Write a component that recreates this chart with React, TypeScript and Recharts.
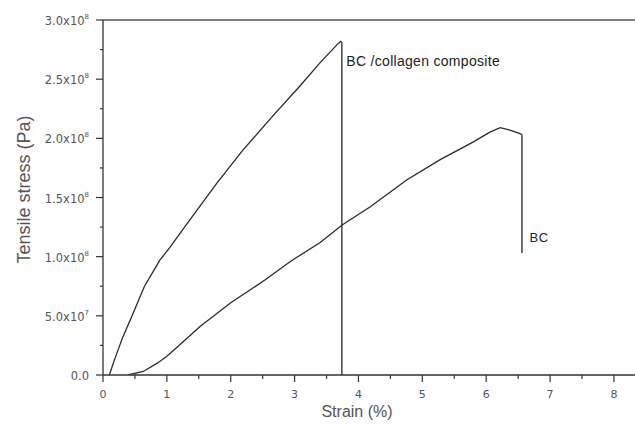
import React from "react";
import { Line, LineChart, ReferenceDot, ReferenceLine, XAxis, YAxis } from "recharts";

// strain (%) and tensile stress (Pa)
const compositeStrain = [0.1, 0.18, 0.31, 0.47, 0.65, 0.89, 1.05, 1.36, 1.78, 2.19, 2.66, 3.08, 3.4, 3.68, 3.72, 3.74, 3.74];
const compositeStress = [0, 0.13e8, 0.32e8, 0.52e8, 0.75e8, 0.97e8, 1.08e8, 1.31e8, 1.62e8, 1.9e8, 2.19e8, 2.44e8, 2.64e8, 2.8e8, 2.82e8, 2.81e8, 0];

const bcStrain = [0.39, 0.63, 0.85, 0.99, 1.15, 1.52, 2.0, 2.53, 2.95, 3.4, 3.75, 4.18, 4.76, 5.28, 5.8, 6.05, 6.22, 6.37, 6.53, 6.56, 6.56];
const bcStress = [0, 0.03e8, 0.1e8, 0.155e8, 0.23e8, 0.41e8, 0.61e8, 0.8e8, 0.965e8, 1.12e8, 1.27e8, 1.42e8, 1.65e8, 1.82e8, 1.97e8, 2.05e8, 2.09e8, 2.07e8, 2.04e8, 2.03e8, 1.03e8];

const xTicks = [0, 0.5, 1, 1.5, 2, 2.5, 3, 3.5, 4, 4.5, 5, 5.5, 6, 6.5, 7, 7.5, 8];
const yTicks = [0, 0.25e8, 0.5e8, 0.75e8, 1e8, 1.25e8, 1.5e8, 1.75e8, 2e8, 2.25e8, 2.5e8, 2.75e8, 3e8];

const compositeData = compositeStrain.map((x, i) => ({ x, y: compositeStress[i] }));
const bcData = bcStrain.map((x, i) => ({ x, y: bcStress[i] }));

const FONT = "'Liberation Sans', Arial, sans-serif";
const TICK_FONT = "'DejaVu Sans', sans-serif";
const AXIS = "#333";
const TEXT = "#555";

function XTick(props: any) {
  const { x, y, payload } = props;
  const major = Number.isInteger(payload.value);
  return (
    <g>
      <line x1={x} x2={x} y1={y} y2={y + (major ? 7 : 4)} stroke={AXIS} strokeWidth={1.2} />
      {major && (
        <text x={x} y={y + 23} textAnchor="middle" fontSize={11} fill={TEXT} fontFamily={TICK_FONT}>
          {payload.value}
        </text>
      )}
    </g>
  );
}

function YTick(props: any) {
  const { x, y, payload } = props;
  const v = payload.value;
  const major = Math.round(v / 0.5e8) * 0.5e8 === v;
  let label: React.ReactNode = null;
  if (major) {
    if (v === 0) {
      label = "0.0";
    } else {
      const exp = Math.floor(Math.log10(v));
      const mant = (v / Math.pow(10, exp)).toFixed(1);
      label = (
        <>
          {mant + "x10"}
          <tspan dy={-6} fontSize={7}>{exp}</tspan>
        </>
      );
    }
  }
  return (
    <g>
      <line x1={x} x2={x - (major ? 7 : 3)} y1={y} y2={y} stroke={AXIS} strokeWidth={1.2} />
      {major && (
        <text x={x - 14} y={y + 5} textAnchor="end" fontSize={11.5} fill={TEXT} fontFamily={TICK_FONT}>
          {label}
        </text>
      )}
    </g>
  );
}

export default function App() {
  return (
    <div style={{ position: "fixed", left: 0, top: 0, width: 635, height: 427, background: "#fff" }}>
      <LineChart width={635} height={427} margin={{ top: 20, right: 0, bottom: 0, left: 0 }}>
        <XAxis
          type="number"
          dataKey="x"
          domain={[0, 8.33]}
          ticks={xTicks}
          allowDataOverflow
          height={52}
          tickSize={0}
          tickMargin={0}
          tickLine={false}
          axisLine={{ stroke: AXIS, strokeWidth: 1.3 }}
          tick={(p: any) => <XTick {...p} />}
          label={{
            content: ({ viewBox }: any) => (
              <text x={viewBox.x + viewBox.width / 2 - 12} y={viewBox.y + 42} textAnchor="middle" fontSize={16} fill={TEXT} fontFamily={FONT}>
                Strain (%)
              </text>
            ),
          }}
        />
        <YAxis
          type="number"
          dataKey="y"
          domain={[0, 3e8]}
          ticks={yTicks}
          allowDataOverflow
          width={103}
          tickSize={0}
          tickMargin={0}
          tickLine={false}
          axisLine={{ stroke: AXIS, strokeWidth: 1.3 }}
          tick={(p: any) => <YTick {...p} />}
          label={{
            content: ({ viewBox }: any) => {
              const cx = 24;
              const cy = viewBox.y + viewBox.height / 2 - 8;
              return (
                <text x={cx} y={cy} transform={`rotate(-90 ${cx} ${cy})`} textAnchor="middle" dominantBaseline="central" fontSize={18} fill={TEXT} fontFamily={FONT}>
                  Tensile stress (Pa)
                </text>
              );
            },
          }}
        />
        <ReferenceLine y={3e8} stroke="#555" strokeWidth={1.3} />
        <Line data={compositeData} dataKey="y" type="linear" stroke="#2a2a2a" strokeWidth={1.3} dot={false} isAnimationActive={false} />
        <Line data={bcData} dataKey="y" type="linear" stroke="#2a2a2a" strokeWidth={1.3} dot={false} isAnimationActive={false} />
        <ReferenceDot
          x={3.81}
          y={2.65e8}
          r={0}
          stroke="none"
          label={{
            content: ({ viewBox }: any) => (
              <text x={viewBox.x} y={viewBox.y + 5} fontSize={14} letterSpacing={0.3} fill="#222" fontFamily={FONT}>
                BC /collagen composite
              </text>
            ),
          }}
        />
        <ReferenceDot
          x={6.68}
          y={1.17e8}
          r={0}
          stroke="none"
          label={{
            content: ({ viewBox }: any) => (
              <text x={viewBox.x} y={viewBox.y + 5} fontSize={13} letterSpacing={0.5} fill="#222" fontFamily={FONT}>
                BC
              </text>
            ),
          }}
        />
      </LineChart>
    </div>
  );
}
